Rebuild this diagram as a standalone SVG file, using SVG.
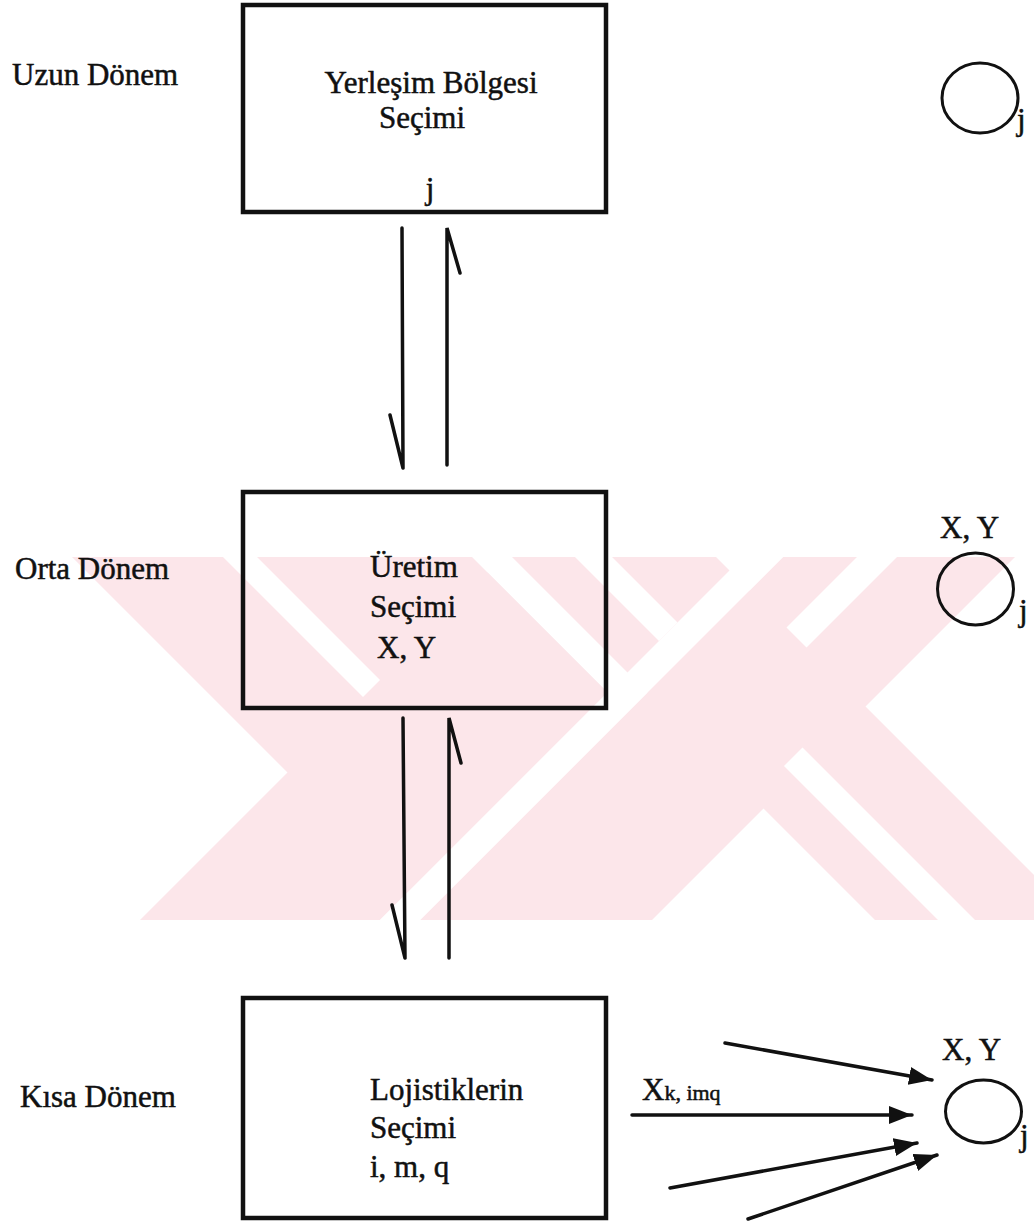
<svg xmlns="http://www.w3.org/2000/svg" width="1034" height="1224" viewBox="0 0 1034 1224">
<style>
text{font-family:"Liberation Serif","Times New Roman",serif;fill:#111;font-size:31px;stroke:#111;stroke-width:0.5}
.box{fill:none;stroke:#111;stroke-width:4.5}
.ln{fill:none;stroke:#111;stroke-width:3.5;stroke-linecap:round}
.ci{fill:none;stroke:#111;stroke-width:3}
.wm{fill:#fce6ea}
.wh{fill:#fff}
</style>
<defs>
<clipPath id="wmclip"><rect x="0" y="557" width="1034" height="363"/></clipPath>
<marker id="ah" markerUnits="userSpaceOnUse" markerWidth="26" markerHeight="20" refX="23" refY="9" orient="auto">
<path d="M0,0 L23,9 L0,18 Z" fill="#111"/>
</marker>
</defs>
<rect width="1034" height="1224" fill="#fff"/>
<g id="watermark" clip-path="url(#wmclip)">
<polygon class="wm" points="72,557 472,557 607.5,692.5 407.5,892.5"/>
<polygon class="wm" points="487.5,572.5 607.5,692.5 380,920 140,920"/>
<polygon class="wm" points="512,557 716,557 1079,920 875,920"/>
<polygon class="wm" points="783,557 1015,557 652,920 420,920"/>
<polygon class="wh" points="223,557 257,557 380,680 363,697"/>
<polygon class="wh" points="743,557 783,557 420,920 380,920"/>
<polygon class="wh" points="575,557 612,557 677.5,622.5 659,641"/>
<polygon class="wh" points="784,766 802.5,747.5 975,920 938,920"/>
<polygon class="wh" points="857,557 897,557 806.5,647.5 786.5,627.5"/>
</g>
<g id="labels">
<text x="12" y="85">Uzun Dönem</text>
<text x="15" y="579">Orta Dönem</text>
<text x="20" y="1107">Kısa Dönem</text>
</g>
<g id="node-yerlesim">
<rect class="box" x="243" y="5" width="363" height="207"/>
<text x="431" y="93" text-anchor="middle">Yerleşim Bölgesi</text>
<text x="422" y="128" text-anchor="middle">Seçimi</text>
<text x="430" y="199" text-anchor="middle">j</text>
</g>
<g id="node-uretim">
<rect class="box" x="243" y="492" width="363" height="216"/>
<text x="370" y="577">Üretim</text>
<text x="370" y="617">Seçimi</text>
<text x="377" y="658">X, Y</text>
</g>
<g id="node-lojistik">
<rect class="box" x="243" y="998" width="363" height="220"/>
<text x="370" y="1100">Lojistiklerin</text>
<text x="370" y="1138">Seçimi</text>
<text x="370" y="1177">i, m, q</text>
</g>
<g id="node-circle-top">
<ellipse class="ci" cx="980" cy="98" rx="38" ry="35"/>
<text x="1017" y="130" font-size="26">j</text>
</g>
<g id="node-circle-mid">
<text x="940" y="538">X, Y</text>
<ellipse class="ci" cx="975.5" cy="589" rx="38" ry="36"/>
<text x="1019" y="621" font-size="26">j</text>
</g>
<g id="node-circle-bot">
<text x="942" y="1060">X, Y</text>
<ellipse class="ci" cx="983.5" cy="1111.5" rx="38" ry="31.5"/>
<text x="1020" y="1146" font-size="26">j</text>
</g>
<g id="connectors">
<path class="ln" d="M402,228 L403,468 M390,415 L403,468"/>
<path class="ln" d="M447,465 L447,228 L460,273"/>
<path class="ln" d="M403,718 L405,958 M392,905 L405,958"/>
<path class="ln" d="M449,958 L449,718 L461,763"/>
<line class="ln" x1="725" y1="1043" x2="932" y2="1080" stroke-width="3" marker-end="url(#ah)"/>
<line class="ln" x1="632" y1="1115" x2="912" y2="1115" stroke-width="3" marker-end="url(#ah)"/>
<line class="ln" x1="670" y1="1188" x2="917" y2="1143" stroke-width="3" marker-end="url(#ah)"/>
<line class="ln" x1="748" y1="1219" x2="937" y2="1155" stroke-width="3" marker-end="url(#ah)"/>
<text x="642" y="1100" font-size="25">X<tspan font-size="22">k, imq</tspan></text>
</g>
</svg>
